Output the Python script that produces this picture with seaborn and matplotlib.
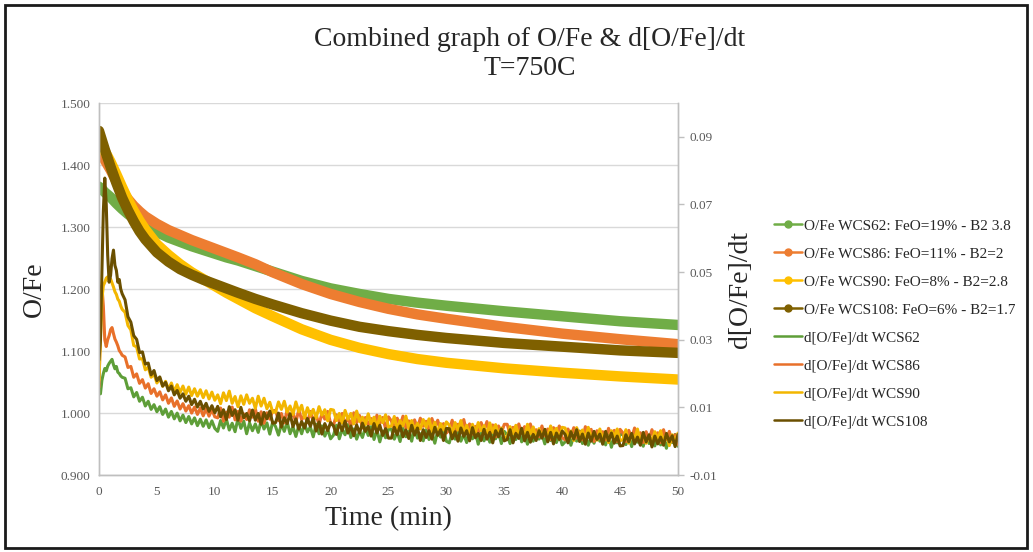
import numpy as np
import pandas as pd
import matplotlib
matplotlib.use("Agg")
import matplotlib.pyplot as plt
from matplotlib.lines import Line2D
from matplotlib.patches import Rectangle
import seaborn as sns

# ---------------- data ----------------
samples = ["WCS62", "WCS86", "WCS90", "WCS108"]
ofe_labels = [
    "O/Fe WCS62: FeO=19% - B2 3.8",
    "O/Fe WCS86: FeO=11% - B2=2",
    "O/Fe WCS90: FeO=8% - B2=2.8",
    "O/Fe WCS108: FeO=6% - B2=1.7",
]
rate_labels = [
    "d[O/Fe]/dt WCS62",
    "d[O/Fe]/dt WCS86",
    "d[O/Fe]/dt WCS90",
    "d[O/Fe]/dt WCS108",
]

# O/Fe ratio against time (min)
time_ofe = [0, 0.25, 0.5, 0.75, 1, 1.5, 2, 2.5, 3, 3.5, 4, 5, 6, 7, 8, 9, 10, 11, 12,
            13.5, 15, 17.5, 20, 22.5, 25, 27.5, 30, 35, 40, 45, 50]
ofe_wcs62 = [1.365, 1.361, 1.356, 1.352, 1.348, 1.338, 1.329, 1.321, 1.314, 1.308,
             1.302, 1.292, 1.283, 1.276, 1.269, 1.263, 1.257, 1.251, 1.246, 1.237,
             1.228, 1.213, 1.201, 1.192, 1.184, 1.178, 1.173, 1.164, 1.156, 1.148, 1.142]
ofe_wcs86 = [1.424, 1.416, 1.408, 1.400, 1.392, 1.374, 1.358, 1.345, 1.334, 1.325,
             1.317, 1.305, 1.295, 1.287, 1.279, 1.272, 1.265, 1.258, 1.251, 1.240,
             1.227, 1.208, 1.192, 1.179, 1.168, 1.159, 1.152, 1.139, 1.128, 1.119, 1.111]
ofe_wcs90 = [1.437, 1.430, 1.422, 1.414, 1.405, 1.385, 1.364, 1.344, 1.326, 1.310,
             1.296, 1.272, 1.255, 1.240, 1.227, 1.216, 1.205, 1.194, 1.184, 1.169,
             1.156, 1.135, 1.118, 1.105, 1.095, 1.087, 1.081, 1.072, 1.065, 1.059, 1.054]
ofe_wcs108 = [1.455, 1.440, 1.425, 1.411, 1.397, 1.371, 1.347, 1.327, 1.309, 1.293,
              1.280, 1.259, 1.244, 1.232, 1.223, 1.215, 1.208, 1.201, 1.194, 1.184,
              1.175, 1.161, 1.149, 1.139, 1.132, 1.126, 1.121, 1.113, 1.107, 1.101, 1.097]

# sampling times of the rate signal (min)
time_rate = np.concatenate([
    np.arange(0, 2.001, 0.125),
    np.arange(2.25, 10.001, 0.25),
    np.arange(10.25, 50.001, 0.25),
])

rate_wcs62 = [
    0.0165, 0.0140, 0.0180, 0.0200, 0.0215, 0.0208, 0.0222, 0.0230, 0.0236, 0.0242,
    0.0226, 0.0214, 0.0221, 0.0204, 0.0200, 0.0193, 0.0189,
    0.0186, 0.0155, 0.0158, 0.0131, 0.0144, 0.0118, 0.0130, 0.0104, 0.0118, 0.0094,
    0.0108, 0.0087, 0.0102, 0.0079, 0.0095, 0.0071, 0.0088, 0.0066, 0.0083, 0.0060,
    0.0077, 0.0055, 0.0073, 0.0051, 0.0069, 0.0046, 0.0065, 0.0044, 0.0063, 0.0040,
    0.0060, 0.0038,
    0.0029, 0.0061, 0.0039, 0.0065, 0.0033, 0.0053, 0.0028, 0.0067, 0.0038, 0.0059,
    0.0022, 0.0054, 0.0031, 0.0051, 0.0026, 0.0061, 0.0036, 0.0054, 0.0021, 0.0057,
    0.0043, 0.0018, 0.0051, 0.0029, 0.0057, 0.0022, 0.0043, 0.0014, 0.0046, 0.0022,
    0.0051, 0.0027, 0.0042, 0.0013, 0.0050, 0.0022, 0.0045, 0.0015, 0.0035, 0.0007,
    0.0018, 0.0047, 0.0007, 0.0035, 0.0019, 0.0049, 0.0011, 0.0036, 0.0006, 0.0029,
    0.0011, 0.0040, 0.0017, 0.0043, 0.0005, 0.0033, -0.0002, 0.0030, 0.0010, 0.0035,
    0.0036, 0.0006, 0.0027, -0.0001, 0.0038, 0.0013, 0.0030, 0.0000, 0.0039, 0.0009,
    0.0022, 0.0001, 0.0034, 0.0005, 0.0025, -0.0006, 0.0030, 0.0012, 0.0035, 0.0000,
    -0.0005, 0.0027, 0.0006, 0.0032, 0.0000, 0.0020, -0.0004, 0.0035, 0.0007, 0.0027,
    -0.0009, 0.0023, 0.0001, 0.0021, -0.0003, 0.0031, 0.0007, 0.0025, -0.0007, 0.0029,
    0.0018, -0.0007, 0.0027, 0.0005, 0.0033, -0.0002, 0.0020, -0.0009, 0.0024, 0.0000,
    0.0030, 0.0006, 0.0021, -0.0008, 0.0030, 0.0002, 0.0026, -0.0004, 0.0017, -0.0011,
    -0.0002, 0.0027, -0.0012, 0.0015, 0.0000, 0.0030, -0.0007, 0.0017, -0.0012, 0.0011,
    -0.0006, 0.0023, 0.0000, 0.0026, -0.0011, 0.0017, -0.0018, 0.0014, -0.0005, 0.0020,
    0.0020, -0.0010, 0.0012, -0.0016, 0.0022, -0.0003, 0.0015, -0.0015, 0.0023, -0.0007,
    0.0007, -0.0014, 0.0018, -0.0011, 0.0010, -0.0021, 0.0014, -0.0004, 0.0020, -0.0015,
]
rate_wcs86 = [
    0.0160, 0.0350, 0.0460, 0.0400, 0.0300, 0.0280, 0.0300, 0.0312, 0.0330, 0.0336,
    0.0318, 0.0302, 0.0293, 0.0282, 0.0268, 0.0262, 0.0254,
    0.0249, 0.0218, 0.0221, 0.0189, 0.0199, 0.0171, 0.0182, 0.0157, 0.0170, 0.0141,
    0.0155, 0.0133, 0.0146, 0.0122, 0.0137, 0.0112, 0.0128, 0.0103, 0.0119, 0.0095,
    0.0111, 0.0089, 0.0105, 0.0083, 0.0101, 0.0079, 0.0098, 0.0075, 0.0096, 0.0074,
    0.0093, 0.0072,
    0.0069, 0.0098, 0.0059, 0.0086, 0.0071, 0.0101, 0.0063, 0.0088, 0.0059, 0.0081,
    0.0064, 0.0093, 0.0071, 0.0096, 0.0059, 0.0087, 0.0053, 0.0084, 0.0065, 0.0090,
    0.0091, 0.0061, 0.0082, 0.0054, 0.0093, 0.0067, 0.0085, 0.0055, 0.0093, 0.0063,
    0.0077, 0.0055, 0.0088, 0.0059, 0.0079, 0.0048, 0.0083, 0.0065, 0.0088, 0.0053,
    0.0047, 0.0078, 0.0057, 0.0082, 0.0051, 0.0070, 0.0045, 0.0084, 0.0055, 0.0076,
    0.0039, 0.0070, 0.0048, 0.0067, 0.0043, 0.0077, 0.0052, 0.0070, 0.0037, 0.0072,
    0.0060, 0.0035, 0.0068, 0.0046, 0.0074, 0.0039, 0.0060, 0.0031, 0.0063, 0.0039,
    0.0068, 0.0044, 0.0059, 0.0030, 0.0067, 0.0039, 0.0062, 0.0032, 0.0052, 0.0024,
    0.0033, 0.0062, 0.0022, 0.0050, 0.0034, 0.0064, 0.0026, 0.0051, 0.0021, 0.0044,
    0.0026, 0.0055, 0.0032, 0.0058, 0.0020, 0.0048, 0.0013, 0.0045, 0.0025, 0.0050,
    0.0050, 0.0020, 0.0041, 0.0013, 0.0051, 0.0026, 0.0043, 0.0013, 0.0051, 0.0021,
    0.0034, 0.0013, 0.0045, 0.0016, 0.0036, 0.0005, 0.0040, 0.0022, 0.0045, 0.0010,
    0.0004, 0.0036, 0.0014, 0.0040, 0.0009, 0.0028, 0.0004, 0.0043, 0.0014, 0.0035,
    -0.0001, 0.0031, 0.0008, 0.0028, 0.0004, 0.0038, 0.0014, 0.0032, -0.0001, 0.0035,
    0.0024, -0.0001, 0.0032, 0.0010, 0.0039, 0.0003, 0.0025, -0.0004, 0.0028, 0.0004,
    0.0034, 0.0010, 0.0025, -0.0004, 0.0034, 0.0005, 0.0029, -0.0001, 0.0019, -0.0009,
]
rate_wcs90 = [
    0.0180, 0.0300, 0.0420, 0.0460, 0.0470, 0.0482, 0.0486, 0.0474, 0.0480, 0.0468,
    0.0456, 0.0442, 0.0434, 0.0420, 0.0414, 0.0400, 0.0390,
    0.0381, 0.0342, 0.0329, 0.0283, 0.0279, 0.0243, 0.0244, 0.0211, 0.0219, 0.0189,
    0.0199, 0.0172, 0.0186, 0.0162, 0.0177, 0.0153, 0.0172, 0.0147, 0.0167, 0.0144,
    0.0163, 0.0139, 0.0160, 0.0135, 0.0155, 0.0133, 0.0152, 0.0129, 0.0149, 0.0125,
    0.0145, 0.0121,
    0.0137, 0.0111, 0.0143, 0.0120, 0.0148, 0.0112, 0.0132, 0.0102, 0.0134, 0.0109,
    0.0137, 0.0112, 0.0127, 0.0097, 0.0133, 0.0104, 0.0127, 0.0096, 0.0115, 0.0086,
    0.0086, 0.0116, 0.0094, 0.0118, 0.0086, 0.0104, 0.0079, 0.0116, 0.0087, 0.0106,
    0.0069, 0.0099, 0.0076, 0.0094, 0.0069, 0.0102, 0.0077, 0.0093, 0.0060, 0.0094,
    0.0092, 0.0061, 0.0082, 0.0053, 0.0091, 0.0065, 0.0082, 0.0051, 0.0089, 0.0058,
    0.0071, 0.0049, 0.0081, 0.0051, 0.0071, 0.0039, 0.0074, 0.0055, 0.0078, 0.0042,
    0.0045, 0.0073, 0.0034, 0.0061, 0.0045, 0.0074, 0.0037, 0.0061, 0.0031, 0.0053,
    0.0036, 0.0064, 0.0041, 0.0066, 0.0029, 0.0056, 0.0021, 0.0052, 0.0033, 0.0057,
    0.0047, 0.0022, 0.0055, 0.0033, 0.0061, 0.0026, 0.0047, 0.0018, 0.0050, 0.0026,
    0.0055, 0.0031, 0.0046, 0.0017, 0.0054, 0.0026, 0.0049, 0.0019, 0.0039, 0.0011,
    0.0012, 0.0043, 0.0022, 0.0047, 0.0016, 0.0036, 0.0011, 0.0050, 0.0021, 0.0042,
    0.0006, 0.0037, 0.0015, 0.0034, 0.0010, 0.0045, 0.0020, 0.0038, 0.0005, 0.0041,
    0.0039, 0.0009, 0.0030, 0.0002, 0.0040, 0.0015, 0.0033, 0.0002, 0.0041, 0.0011,
    0.0024, 0.0003, 0.0036, 0.0006, 0.0027, -0.0004, 0.0031, 0.0013, 0.0036, 0.0001,
    0.0005, 0.0034, -0.0006, 0.0022, 0.0006, 0.0036, -0.0001, 0.0023, -0.0006, 0.0017,
    -0.0001, 0.0028, 0.0006, 0.0031, -0.0006, 0.0022, -0.0013, 0.0019, -0.0001, 0.0024,
]
rate_wcs108 = [
    0.0240, 0.0300, 0.0500, 0.0680, 0.0778, 0.0700, 0.0550, 0.0470, 0.0490, 0.0540,
    0.0565, 0.0520, 0.0505, 0.0470, 0.0478, 0.0450, 0.0436,
    0.0418, 0.0368, 0.0352, 0.0312, 0.0301, 0.0262, 0.0264, 0.0228, 0.0231, 0.0196,
    0.0209, 0.0179, 0.0190, 0.0163, 0.0174, 0.0149, 0.0163, 0.0137, 0.0150, 0.0127,
    0.0140, 0.0118, 0.0133, 0.0108, 0.0124, 0.0101, 0.0118, 0.0095, 0.0112, 0.0088,
    0.0105, 0.0084,
    0.0103, 0.0072, 0.0093, 0.0064, 0.0102, 0.0076, 0.0093, 0.0062, 0.0100, 0.0069,
    0.0082, 0.0060, 0.0092, 0.0062, 0.0082, 0.0050, 0.0085, 0.0066, 0.0089, 0.0053,
    0.0055, 0.0083, 0.0042, 0.0069, 0.0052, 0.0081, 0.0043, 0.0066, 0.0036, 0.0058,
    0.0039, 0.0067, 0.0044, 0.0068, 0.0030, 0.0057, 0.0021, 0.0052, 0.0031, 0.0055,
    0.0045, 0.0020, 0.0053, 0.0031, 0.0059, 0.0024, 0.0045, 0.0016, 0.0048, 0.0024,
    0.0053, 0.0029, 0.0044, 0.0015, 0.0052, 0.0024, 0.0047, 0.0017, 0.0037, 0.0009,
    0.0009, 0.0041, 0.0019, 0.0045, 0.0013, 0.0033, 0.0008, 0.0047, 0.0018, 0.0039,
    0.0002, 0.0034, 0.0011, 0.0031, 0.0006, 0.0041, 0.0017, 0.0034, 0.0002, 0.0038,
    0.0037, 0.0007, 0.0028, 0.0000, 0.0039, 0.0014, 0.0031, 0.0001, 0.0040, 0.0010,
    0.0023, 0.0002, 0.0035, 0.0006, 0.0026, -0.0005, 0.0031, 0.0013, 0.0036, 0.0001,
    0.0005, 0.0034, -0.0005, 0.0023, 0.0008, 0.0038, 0.0001, 0.0026, -0.0003, 0.0020,
    0.0002, 0.0031, 0.0009, 0.0035, -0.0002, 0.0026, -0.0008, 0.0024, 0.0005, 0.0030,
    0.0020, -0.0005, 0.0028, 0.0006, 0.0034, -0.0001, 0.0021, -0.0009, 0.0024, 0.0000,
    0.0029, 0.0005, 0.0021, -0.0009, 0.0029, 0.0001, 0.0024, -0.0006, 0.0015, -0.0014,
    -0.0013, 0.0019, -0.0002, 0.0023, -0.0008, 0.0012, -0.0012, 0.0026, -0.0002, 0.0019,
    -0.0017, 0.0015, -0.0008, 0.0012, -0.0012, 0.0023, -0.0002, 0.0016, -0.0016, 0.0020,
]

ofe_colors = ["#70AD47", "#ED7D31", "#FFC000", "#7F6000"]
rate_colors = ["#5E9E38", "#E8702A", "#F2B600", "#6A4F00"]

ofe_df = pd.DataFrame({"time": time_ofe, "WCS62": ofe_wcs62, "WCS86": ofe_wcs86,
                       "WCS90": ofe_wcs90, "WCS108": ofe_wcs108})
rate_df = pd.DataFrame({"time": time_rate, "WCS62": rate_wcs62, "WCS86": rate_wcs86,
                        "WCS90": rate_wcs90, "WCS108": rate_wcs108})

# ---------------- style ----------------
sns.set_style("white")
plt.rcParams["font.family"] = ["Liberation Serif", "DejaVu Serif"]
tick_color = "#595959"
axis_color = "#BFBFBF"

fig = plt.figure(figsize=(10.33, 5.52), dpi=100)
ax = fig.add_axes([99 / 1033, 77 / 552, 579 / 1033, 372 / 552])
ax2 = ax.twinx()

# O/Fe curves (primary axis)
for s, c in zip(samples, ofe_colors):
    sns.lineplot(data=ofe_df, x="time", y=s, ax=ax, color=c, linewidth=7.5,
                 solid_capstyle="round", solid_joinstyle="round", sort=False,
                 estimator=None, legend=False)

# rate curves (secondary axis)
for s, c in zip(samples, rate_colors):
    sns.lineplot(data=rate_df, x="time", y=s, ax=ax2, color=c, linewidth=2.2,
                 sort=False, estimator=None, legend=False)

# axes limits and ticks
ax.set_xlim(0, 50)
ax.set_ylim(0.9, 1.5)
ax2.set_ylim(-0.01, 0.10)
ax.set_xticks(np.arange(0, 51, 5))
ofe_ticks = [0.9, 1.0, 1.1, 1.2, 1.3, 1.4, 1.5]
ax.set_yticks(ofe_ticks)
ax.set_yticklabels([f"{v:.3f}" for v in ofe_ticks])
rate_ticks = [-0.01, 0.01, 0.03, 0.05, 0.07, 0.09]
ax2.set_yticks(rate_ticks)
ax2.set_yticklabels([f"{v:.2f}" for v in rate_ticks])

ax.grid(axis="y", color="#D9D9D9", linewidth=1.0)
ax.grid(axis="x", visible=False)
ax2.grid(False)

ax.tick_params(axis="both", length=0, labelsize=9.5, labelcolor=tick_color, pad=6)
ax.tick_params(axis="x", pad=8)
ax2.tick_params(axis="y", length=4, width=1, color=axis_color, labelsize=9.5,
                labelcolor=tick_color, pad=4, direction="out")

for a in (ax, ax2):
    a.spines["top"].set_visible(False)
    for side in ("left", "right", "bottom"):
        a.spines[side].set_color(axis_color)
        a.spines[side].set_linewidth(1.0)

# labels
ax.set_xlabel("Time (min)", fontsize=20)
ax.set_ylabel("O/Fe", fontsize=20)
ax2.set_ylabel("d[O/Fe]/dt", fontsize=20)
ax.xaxis.set_label_coords(0.5, -0.118)
ax.xaxis.label.set_va("center")
ax.yaxis.set_label_coords(-(99 - 34) / 579, 0.5)
ax.yaxis.label.set_va("center")
ax2.yaxis.set_label_coords((741 - 99) / 579, 0.5)
ax2.yaxis.label.set_va("center")

fig.text(530 / 1033, 1 - 54 / 552, "Combined graph of O/Fe & d[O/Fe]/dt\nT=750C",
         ha="center", va="center", fontsize=20, linespacing=1.2)

# legend
handles = [Line2D([], [], color=c, linewidth=1.8, marker="o", markersize=5) for c in ofe_colors]
handles += [Line2D([], [], color=c, linewidth=1.8) for c in rate_colors]
fig.legend(handles, ofe_labels + rate_labels, loc="upper left",
           bbox_to_anchor=(768 / 1033, 1 - 213 / 552), frameon=False, fontsize=11,
           handlelength=1.8, handletextpad=0.15, labelspacing=0.93, borderaxespad=0)

# chart frame
fig.add_artist(Rectangle((5 / 1033, 4 / 552), 1022 / 1033, 543 / 552,
                         transform=fig.transFigure, fill=False,
                         edgecolor="#1A1A1A", linewidth=2))

fig.savefig("out.png", dpi=100)
